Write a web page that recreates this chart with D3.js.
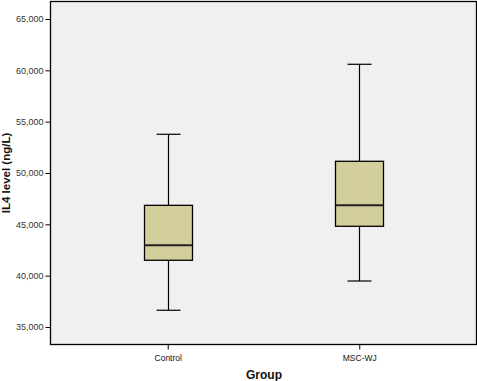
<!DOCTYPE html>
<html><head><meta charset="utf-8">
<script src="https://cdn.jsdelivr.net/npm/d3@7"></script>
<style>body{margin:0;background:#fff}svg{display:block}</style>
</head><body>
<script>
const categories = ["Control", "MSC-WJ"];
const whiskerLow = [36630, 39480];
const q1 = [41500, 44810];
const median = [42960, 46850];
const q3 = [46850, 51140];
const whiskerHigh = [53770, 60590];
const yTicks = [35000, 40000, 45000, 50000, 55000, 60000, 65000];

const W = 477, H = 381;
const m = {left: 50.5, right: 476.5, top: 1.5, bottom: 344.5};
const svg = d3.select("body").append("svg").attr("width", W).attr("height", H);

const x = d3.scalePoint().domain(categories).range([m.left, m.right]).padding(0.612);
const y = d3.scaleLinear().domain([35000, 65000]).range([327, 19]);

svg.append("rect").attr("x", m.left).attr("y", m.top)
  .attr("width", m.right - m.left).attr("height", m.bottom - m.top)
  .attr("fill", "#f0f0f0").attr("stroke", "#000").attr("stroke-width", 1.3);

const fmt = d3.format(",.3f");
const yAxis = svg.append("g").attr("transform", `translate(${m.left},0)`)
  .call(d3.axisLeft(y).tickValues(yTicks).tickSize(5).tickPadding(2)
    .tickFormat(d => d3.format(",")(d).replace(",", ",").replace(/^(\d+),(\d+)$/, "$1,$2")));
yAxis.select(".domain").remove();
yAxis.selectAll("text").text(d => (d/1000).toFixed(3).replace(".", ","))
  .attr("font-family", "Arial, 'Liberation Sans', sans-serif").attr("font-size", 9).attr("fill", "#333");
yAxis.selectAll("line").attr("stroke", "#000");

const xAxis = svg.append("g").attr("transform", `translate(0,${m.bottom})`)
  .call(d3.axisBottom(x).tickSize(5).tickPadding(5));
xAxis.select(".domain").remove();
xAxis.selectAll("text").attr("font-family", "Arial, 'Liberation Sans', sans-serif").attr("font-size", 8.5).attr("fill", "#111");
xAxis.selectAll("line").attr("stroke", "#000");

const bw = 48, cw = 24;
const g = svg.append("g");
categories.forEach((c, i) => {
  const cx = Math.round(x(c)) + 0.5;
  g.append("line").attr("x1", cx).attr("x2", cx).attr("y1", y(whiskerHigh[i])).attr("y2", y(q3[i])).attr("stroke", "#000").attr("stroke-width", 1.2);
  g.append("line").attr("x1", cx).attr("x2", cx).attr("y1", y(q1[i])).attr("y2", y(whiskerLow[i])).attr("stroke", "#000").attr("stroke-width", 1.2);
  g.append("line").attr("x1", cx - cw/2).attr("x2", cx + cw/2).attr("y1", y(whiskerHigh[i])).attr("y2", y(whiskerHigh[i])).attr("stroke", "#000").attr("stroke-width", 1.2);
  g.append("line").attr("x1", cx - cw/2).attr("x2", cx + cw/2).attr("y1", y(whiskerLow[i])).attr("y2", y(whiskerLow[i])).attr("stroke", "#000").attr("stroke-width", 1.2);
  g.append("rect").attr("x", cx - bw/2).attr("y", y(q3[i])).attr("width", bw).attr("height", y(q1[i]) - y(q3[i]))
    .attr("fill", "#d3cf9d").attr("stroke", "#000").attr("stroke-width", 1.3);
  g.append("line").attr("x1", cx - bw/2).attr("x2", cx + bw/2).attr("y1", y(median[i])).attr("y2", y(median[i])).attr("stroke", "#222").attr("stroke-width", 2);
});

svg.append("text").attr("x", 264).attr("y", 379).attr("text-anchor", "middle")
  .attr("font-family", "Arial, 'Liberation Sans', sans-serif").attr("font-size", 12).attr("font-weight", "bold").attr("fill", "#111").text("Group");
svg.append("text").attr("transform", "translate(10,173) rotate(-90)").attr("text-anchor", "middle")
  .attr("font-family", "Arial, 'Liberation Sans', sans-serif").attr("font-size", 11.5).attr("font-weight", "bold").attr("fill", "#111").text("IL4 level (ng/L)");
</script>
</body></html>
